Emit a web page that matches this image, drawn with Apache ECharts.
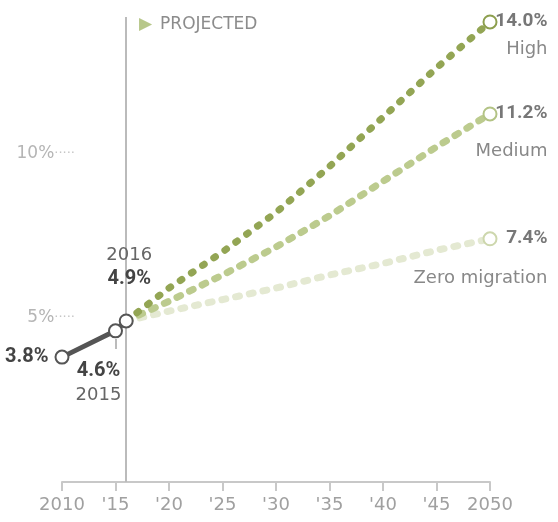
<!DOCTYPE html>
<html>
<head>
<meta charset="utf-8">
<script src="https://cdn.jsdelivr.net/npm/echarts@6/dist/echarts.min.js"></script>
<style>
  html, body { margin: 0; padding: 0; background: #fff; }
  #main { width: 558px; height: 522px; }
</style>
</head>
<body>
<div id="main"></div>
<script>
// historical share
var histYears = [2010, 2015, 2016];
var histValues = [3.8, 4.6, 4.9];

// projections 2016-2050
var projYears = [2016, 2020, 2025, 2030, 2035, 2040, 2045, 2050];
var highValues = [4.9, 5.9, 7.0, 8.2, 9.6, 11.1, 12.6, 14.0];
var mediumValues = [4.9, 5.5, 6.3, 7.15, 8.1, 9.15, 10.2, 11.2];
var zeroValues = [4.9, 5.2, 5.55, 5.9, 6.3, 6.65, 7.05, 7.4];

var yTicks = [5, 10];
var FONT = 'DejaVu Sans';
var BOLD = 'Roboto';

var chart = echarts.init(document.getElementById('main'));

// 预测线，最后一个点带标记和标签
function projSeries(name, values, color, markerColor, dash, nameGap) {
    var data = [];
    for (var i = 0; i < projYears.length; i++) {
        data.push([projYears[i], values[i]]);
    }
    var last = data.length - 1;
    data[last] = {
        value: data[last],
        symbolSize: 13,
        label: {
            show: true,
            position: [65, -4],
            align: 'right',
            verticalAlign: 'top',
            formatter: '{v|' + values[last].toFixed(1) + '%}\n{n|' + name + '}',
            rich: {
                v: { fontFamily: BOLD, fontSize: 19, fontWeight: 'bold', color: '#777', lineHeight: 22, align: 'right' },
                n: { fontFamily: FONT, fontSize: 18, color: '#888', lineHeight: nameGap, align: 'right' }
            }
        }
    };
    return {
        name: name,
        type: 'line',
        data: data,
        symbol: 'circle',
        symbolSize: 0,
        itemStyle: { color: '#fff', borderColor: markerColor, borderWidth: 2 },
        lineStyle: { color: color, width: 7, type: dash, cap: 'round' },
        label: { show: false },
        silent: true
    };
}

var histData = [];
for (var i = 0; i < histYears.length; i++) {
    histData.push([histYears[i], histValues[i]]);
}
var hv = { fontFamily: BOLD, fontSize: 20, fontWeight: 'bold', color: '#444', lineHeight: 24 };
var hy = { fontFamily: FONT, fontSize: 18, color: '#666', lineHeight: 24 };
histData[0] = {
    value: histData[0],
    label: { show: true, position: 'left', distance: 6, formatter: '{v|3.8%}', rich: { v: hv } }
};
histData[1] = {
    value: histData[1],
    label: { show: true, position: 'bottom', distance: 21, offset: [-17, 0],
        formatter: '{v|4.6%}\n{y|2015}', rich: { v: hv, y: hy } }
};
histData[2] = {
    value: histData[2],
    label: { show: true, position: 'top', distance: 22, offset: [3, 0],
        formatter: '{y|2016}\n{v|4.9%}', rich: { v: hv, y: hy } }
};

var option = {
    animation: false,
    backgroundColor: '#fff',
    grid: { left: 62, right: 68, top: 17, bottom: 40 },
    graphic: [{
        type: 'text',
        left: 139,
        top: 16,
        style: {
            text: '{t|▶}{p|PROJECTED}',
            rich: {
                t: { fontFamily: FONT, fontSize: 17, fill: '#b7c78a' },
                p: { fontFamily: FONT, fontSize: 17, fill: '#8c8c8c', padding: [0, 0, 0, 8] }
            }
        }
    }],
    xAxis: {
        type: 'value',
        min: 2010,
        max: 2050,
        interval: 5,
        axisLine: { lineStyle: { color: '#c8c8c8', width: 2 } },
        axisTick: { show: true, length: 9, lineStyle: { color: '#c8c8c8', width: 2 } },
        splitLine: { show: false },
        axisLabel: {
            margin: 14,
            fontFamily: FONT,
            fontSize: 18,
            color: '#a0a0a0',
            formatter: function (v) {
                if (v === 2010 || v === 2050) return String(v);
                return "'" + String(v).slice(2);
            }
        }
    },
    yAxis: {
        type: 'value',
        min: 0,
        max: 14.15,
        interval: 5,
        axisLine: { show: false },
        axisTick: { show: false },
        splitLine: { show: false },
        axisLabel: {
            margin: -13,
            showMaxLabel: false,
            formatter: function (v) {
                if (yTicks.indexOf(v) < 0) return '';
                return '{n|' + v + '%}{d|·····}';
            },
            rich: {
                n: { fontFamily: FONT, fontSize: 17, color: '#b5b5b5' },
                d: { fontFamily: FONT, fontSize: 13, color: '#c5c5c5' }
            }
        }
    },
    series: [
        projSeries('Zero migration', zeroValues, '#e4e9d2', '#cdd7ad', [4, 10], 58),
        projSeries('Medium', mediumValues, '#bccb8e', '#b3c385', [4, 10], 54),
        projSeries('High', highValues, '#93a554', '#8d9f4e', [2, 11.5], 34),
        {
            name: 'history',
            type: 'line',
            data: histData,
            symbol: 'circle',
            symbolSize: 13,
            itemStyle: { color: '#fff', borderColor: '#555', borderWidth: 2 },
            lineStyle: { color: '#555', width: 5 },
            z: 5,
            silent: true,
            markLine: {
                silent: true,
                symbol: 'none',
                label: { show: false },
                lineStyle: { color: '#bbb', width: 2, type: 'solid' },
                data: [
                    { xAxis: 2016 },
                    [{ coord: [2015, 4.05] }, { coord: [2015, 4.35] }]
                ]
            }
        }
    ]
};

chart.setOption(option);
</script>
</body>
</html>
